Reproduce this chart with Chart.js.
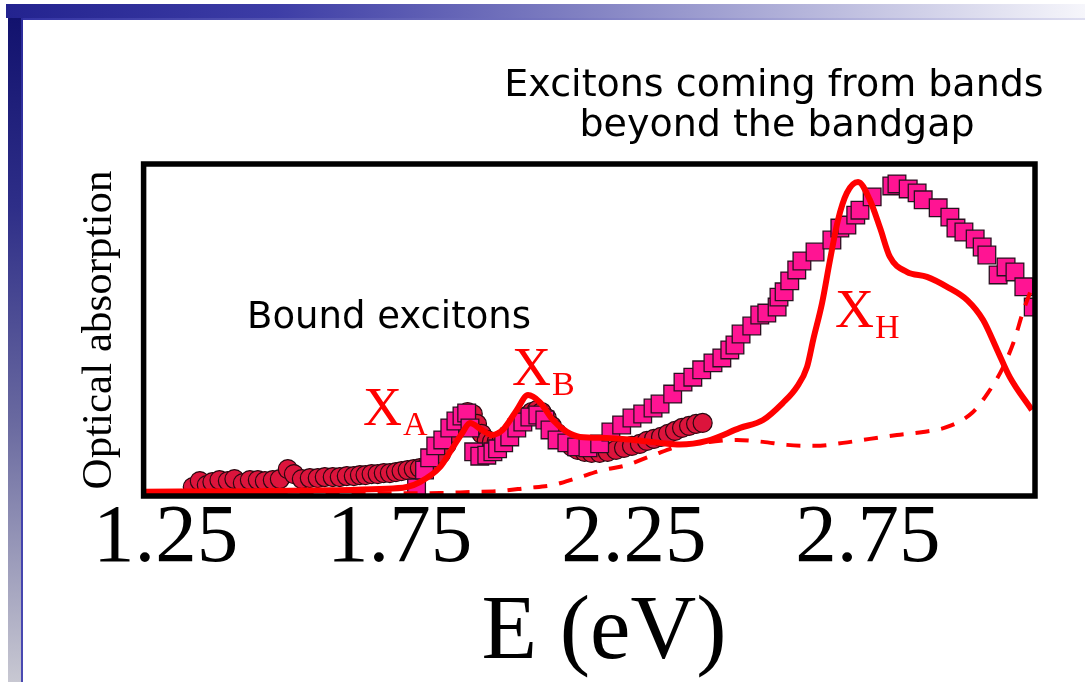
<!DOCTYPE html>
<html>
<head>
<meta charset="utf-8">
<title>Optical absorption</title>
<script src="https://cdn.jsdelivr.net/npm/chart.js@4.4.1/dist/chart.umd.min.js"></script>
<style>
  html, body { margin: 0; padding: 0; background: #fff; }
  body { width: 1085px; height: 685px; position: relative; overflow: hidden; }
  #wrap { position: absolute; left: 0; top: 0; width: 1085px; height: 685px; }
  /* slide frame: gradient bars along the top and left edges */
  .topbar { position: absolute; left: 6px; top: 4px; width: 1079px; height: 14px;
    background: linear-gradient(to right, #23238f 0%, #3d3da6 25%, #8585c4 55%, #c4c4e2 80%, #f6f6fb 100%); }
  .topline { position: absolute; left: 21px; top: 18px; width: 1064px; height: 2px;
    background: linear-gradient(to right, #3434a4 0%, #7474be 50%, #dedef0 100%); }
  .leftbar { position: absolute; left: 8px; top: 4px; width: 13px; height: 678px;
    background: linear-gradient(to bottom, #10106c 0%, #2e2e88 30%, #6a6aa0 62%, #c8c8d2 100%); }
  .leftline { position: absolute; left: 21px; top: 18px; width: 2px; height: 664px;
    background: linear-gradient(to bottom, #2c2c9c 0%, #4a4ab2 100%); }
</style>
</head>
<body>
<div id="wrap"><canvas id="chart"></canvas></div>
<div class="leftbar"></div>
<div class="topbar"></div>
<div class="topline"></div>
<div class="leftline"></div>
<script>
// x-axis tick positions (eV)
const tickValues = [1.25, 1.75, 2.25, 2.75];

// measured absorption, sample 1 (circles)
const sampleOneE = [1.308,1.323,1.338,1.350,1.365,1.383,1.397,1.415,1.430,1.447,1.462,1.479,1.494,1.511,1.524,1.541,1.558,1.575,1.590,1.607,1.622,1.637,1.652,1.665,1.677,1.690,1.703,1.716,1.729,1.742,1.754,1.767,1.780,1.793,1.808,1.823,1.838,1.850,1.863,1.876,1.887,1.895,1.906,1.915,1.925,1.936,1.947,1.957,1.968,1.979,1.989,2.000,2.011,2.021,2.032,2.043,2.053,2.064,2.075,2.086,2.096,2.107,2.118,2.130,2.145,2.160,2.177,2.194,2.212,2.229,2.246,2.263,2.278,2.293,2.308,2.323,2.338,2.353,2.368,2.383,2.397];
const sampleOneAbs = [2.7,4.5,3.3,4.2,4.8,4.5,5.1,3.9,4.8,4.8,4.5,4.8,5.1,8.1,6.6,5.1,5.4,5.4,5.7,5.7,5.7,6.0,6.0,6.3,6.3,6.6,6.6,6.9,6.9,7.2,7.5,7.8,8.1,8.4,9.0,10.5,12.7,15.4,19.0,22.3,24.7,25.3,24.7,21.7,18.7,16.9,16.3,16.3,16.9,18.1,19.6,21.1,22.9,24.1,25.3,25.9,25.3,23.5,21.1,19.0,17.5,16.0,14.8,13.9,13.3,13.0,13.0,13.3,13.9,14.5,15.1,15.7,16.6,17.2,17.8,18.7,19.6,20.5,21.1,21.7,22.0];

// measured absorption, sample 2 (squares)
const sampleTwoE = [1.786,1.803,1.814,1.827,1.842,1.857,1.870,1.883,1.893,1.900,1.908,1.921,1.936,1.949,1.959,1.972,1.985,2.000,2.013,2.028,2.045,2.060,2.071,2.086,2.107,2.128,2.152,2.177,2.201,2.224,2.246,2.269,2.291,2.306,2.333,2.355,2.376,2.395,2.419,2.438,2.455,2.466,2.479,2.502,2.519,2.534,2.556,2.560,2.571,2.583,2.598,2.609,2.637,2.673,2.690,2.705,2.724,2.733,2.759,2.801,2.812,2.836,2.855,2.868,2.900,2.925,2.938,2.955,2.979,2.994,3.004,3.028,3.045,3.064,3.083,3.103];
const sampleTwoAbs = [2.4,7.8,11.5,15.1,16.9,20.5,22.6,24.1,25.0,20.5,13.3,12.0,12.3,13.3,14.2,16.0,17.8,20.5,22.3,23.8,24.4,22.9,19.9,16.9,16.0,14.8,14.5,15.7,19.3,21.4,23.5,24.7,26.5,27.7,30.7,34.3,35.8,38.0,40.1,41.6,44.0,45.5,48.8,51.2,54.5,55.1,56.9,59.9,61.5,64.8,68.1,70.8,73.5,77.1,80.7,81.6,84.6,86.1,90.1,93.4,94.0,92.5,91.3,89.2,86.8,84.0,80.7,79.5,77.4,75.0,72.6,66.6,69.0,67.5,63.0,56.9];

// calculated spectrum with excitonic effects (solid line)
const calcE = [1.203,1.430,1.600,1.707,1.765,1.793,1.836,1.863,1.885,1.900,1.925,1.947,1.970,2.000,2.024,2.049,2.077,2.107,2.135,2.192,2.248,2.306,2.348,2.406,2.477,2.526,2.568,2.598,2.620,2.633,2.652,2.669,2.686,2.705,2.729,2.754,2.776,2.797,2.833,2.876,2.919,2.962,2.996,3.026,3.053,3.100];
const calcAbs = [1.3,1.4,1.7,2.1,2.7,4.2,8.7,14.5,19.3,22.0,19.9,18.4,19.9,25.9,30.4,28.3,22.9,19.3,17.8,17.5,16.9,16.0,15.5,16.6,20.5,22.9,28.0,32.8,38.9,47.0,58.1,71.1,83.1,91.3,94.6,89.2,80.7,72.0,67.5,66.0,63.0,59.0,53.0,44.0,35.8,25.9];

// calculated spectrum without excitonic effects (dashed line)
const freeE = [1.203,1.707,1.836,1.900,1.964,2.021,2.077,2.128,2.184,2.235,2.291,2.355,2.412,2.470,2.526,2.577,2.637,2.697,2.754,2.812,2.868,2.919,2.972,3.006,3.038,3.062,3.081,3.100];
const freeAbs = [0.6,0.8,0.9,1.2,1.5,2.4,3.3,5.4,7.8,9.3,12.3,15.4,16.3,16.9,16.3,15.4,15.1,16.0,17.2,18.4,19.3,20.8,25.0,31.0,38.6,46.7,55.4,62.7];

const pairs = (xs, ys) => xs.map((x, i) => ({ x: x, y: ys[i] }));

const SERIF = '"Liberation Serif", "Times New Roman", serif';
const SANS = '"DejaVu Sans", Verdana, sans-serif';

// peak labels: subscript letter, left edge and baselines (px)
const peakLabels = [
  { sub: 'A', left: 363, base: 425, subBase: 435 },
  { sub: 'B', left: 512, base: 385, subBase: 395 },
  { sub: 'H', left: 835, base: 327, subBase: 338 }
];

const decorations = {
  id: 'decorations',
  afterDatasetsDraw(chart) {
    const { ctx, chartArea: a } = chart;
    ctx.save();
    ctx.strokeStyle = '#000';
    ctx.lineWidth = 5.5;
    ctx.strokeRect(a.left, a.top, a.right - a.left, a.bottom - a.top);
    ctx.restore();
  },
  afterDraw(chart) {
    const ctx = chart.ctx;
    ctx.save();
    ctx.textBaseline = 'alphabetic';
    ctx.fillStyle = '#000';
    ctx.font = '38px ' + SANS;
    ctx.textAlign = 'center';
    ctx.fillText('Excitons coming from bands', 774, 96);
    ctx.fillText('beyond the bandgap', 777, 136);
    ctx.font = '37px ' + SANS;
    ctx.textAlign = 'left';
    ctx.fillText('Bound excitons', 247, 328);

    ctx.fillStyle = '#ff0000';
    peakLabels.forEach(p => {
      ctx.font = '54px ' + SERIF;
      ctx.fillText('X', p.left, p.base);
      const w = ctx.measureText('X').width;
      ctx.font = '34px ' + SERIF;
      ctx.fillText(p.sub, p.left + w + 1, p.subBase);
    });

    ctx.fillStyle = '#000';
    ctx.font = '91px ' + SERIF;
    ctx.textAlign = 'center';
    ctx.fillText('E (eV)', 604, 658);
    ctx.restore();
  }
};

new Chart(document.getElementById('chart'), {
  type: 'scatter',
  data: {
    datasets: [
      {
        label: 'calculated',
        data: pairs(calcE, calcAbs),
        showLine: true,
        borderColor: '#ff0000',
        borderWidth: 6,
        pointRadius: 0,
        cubicInterpolationMode: 'monotone',
        clip: 0
      },
      {
        label: 'calculated, no excitons',
        data: pairs(freeE, freeAbs),
        showLine: true,
        borderColor: '#ff0000',
        borderWidth: 4,
        borderDash: [14, 12],
        pointRadius: 0,
        cubicInterpolationMode: 'monotone',
        clip: 0
      },
      {
        label: 'sample 2',
        data: pairs(sampleTwoE, sampleTwoAbs),
        showLine: false,
        pointStyle: 'rect',
        pointRadius: 12.5,
        backgroundColor: '#ff1493',
        borderColor: '#2a1020',
        pointBorderWidth: 1.3,
        clip: 0
      },
      {
        label: 'sample 1',
        data: pairs(sampleOneE, sampleOneAbs),
        showLine: false,
        pointStyle: 'circle',
        pointRadius: 9.5,
        backgroundColor: '#dc143c',
        borderColor: '#2a0810',
        pointBorderWidth: 1.2,
        clip: 0
      }
    ]
  },
  options: {
    responsive: true,
    maintainAspectRatio: false,
    animation: false,
    devicePixelRatio: 1,
    layout: { padding: { left: 0, right: 50, top: 164, bottom: 102 } },
    plugins: {
      legend: { display: false },
      tooltip: { enabled: false },
      title: { display: false }
    },
    scales: {
      x: {
        type: 'linear',
        min: 1.203,
        max: 3.1068,
        grid: { display: false, drawTicks: false },
        border: { display: false },
        afterBuildTicks: scale => { scale.ticks = tickValues.map(v => ({ value: v })); },
        ticks: {
          autoSkip: false,
          maxRotation: 0,
          minRotation: 0,
          padding: 2,
          color: '#000',
          font: { family: SERIF, size: 83, lineHeight: 1 },
          callback: v => Number(v).toFixed(2)
        }
      },
      y: {
        type: 'linear',
        min: 0,
        max: 100,
        grid: { display: false, drawTicks: false },
        border: { display: false },
        ticks: { display: false },
        title: {
          display: true,
          text: 'Optical absorption',
          color: '#000',
          font: { family: SERIF, size: 43, lineHeight: 1.2 },
          padding: { top: 74, bottom: 18 }
        }
      }
    }
  },
  plugins: [decorations]
});
</script>
</body>
</html>
